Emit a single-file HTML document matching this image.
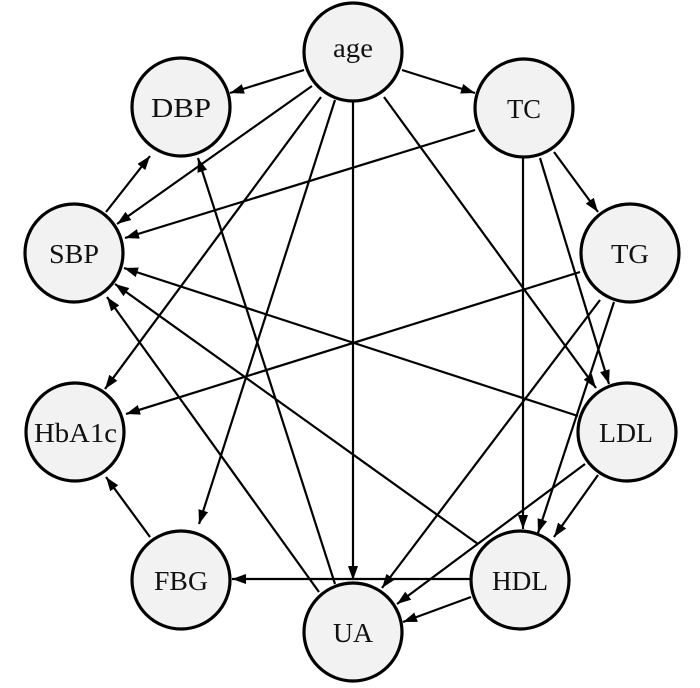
<!DOCTYPE html>
<html><head><meta charset="utf-8"><style>
html,body{margin:0;padding:0;background:#fff;}
svg{display:block;}
text{font-family:"Liberation Serif",serif;font-size:27px;fill:#111;}
</style></head><body>
<svg width="700" height="688" viewBox="0 0 700 688" xmlns="http://www.w3.org/2000/svg">
<defs>
<marker id="a" markerWidth="14" markerHeight="10" refX="14" refY="5" orient="auto" markerUnits="userSpaceOnUse">
<path d="M0,0 L14,5 L0,10 z" fill="#000"/>
</marker>
</defs>
<g stroke="#000" stroke-width="2.2" fill="none" marker-end="url(#a)">
<line x1="304" y1="70" x2="230" y2="93"/>
<line x1="402" y1="70" x2="475" y2="93"/>
<line x1="312" y1="86" x2="117" y2="224"/>
<line x1="321" y1="97" x2="105" y2="389"/>
<line x1="335" y1="100" x2="199" y2="524"/>
<line x1="353" y1="102" x2="353" y2="580"/>
<line x1="384" y1="97" x2="596" y2="388"/>
<line x1="475" y1="130" x2="125" y2="238"/>
<line x1="554" y1="152" x2="598" y2="212"/>
<line x1="523" y1="158" x2="523" y2="529"/>
<line x1="540" y1="158" x2="609" y2="384"/>
<line x1="106" y1="212" x2="150" y2="156"/>
<line x1="335" y1="584" x2="198" y2="158"/>
<line x1="319" y1="592" x2="107" y2="297"/>
<line x1="478" y1="544" x2="115" y2="284"/>
<line x1="578" y1="416" x2="124" y2="268"/>
<line x1="580" y1="272" x2="126" y2="414"/>
<line x1="600" y1="300" x2="382" y2="588"/>
<line x1="614" y1="302" x2="538" y2="533"/>
<line x1="585" y1="464" x2="397" y2="604"/>
<line x1="598" y1="475" x2="554" y2="537"/>
<line x1="471" y1="597" x2="403" y2="622"/>
<line x1="471" y1="579" x2="232" y2="579"/>
<line x1="150" y1="537" x2="106" y2="477"/>
</g>
<g fill="#f2f2f2" stroke="#000" stroke-width="3.2">
<circle cx="353" cy="52" r="49"/>
<circle cx="181" cy="107" r="49"/>
<circle cx="524" cy="108" r="49"/>
<circle cx="74" cy="253" r="49"/>
<circle cx="630" cy="253" r="49"/>
<circle cx="75" cy="432" r="49"/>
<circle cx="627" cy="432" r="49"/>
<circle cx="181" cy="580" r="49"/>
<circle cx="520" cy="580" r="49"/>
<circle cx="353" cy="632" r="49"/>
</g>
<g lengthAdjust="spacingAndGlyphs">
<text x="333" y="57" textLength="40" lengthAdjust="spacingAndGlyphs">age</text>
<text x="151" y="117" textLength="60" lengthAdjust="spacingAndGlyphs">DBP</text>
<text x="507" y="118" textLength="34" lengthAdjust="spacingAndGlyphs">TC</text>
<text x="49" y="263" textLength="50" lengthAdjust="spacingAndGlyphs">SBP</text>
<text x="611" y="263" textLength="38" lengthAdjust="spacingAndGlyphs">TG</text>
<text x="34" y="442" textLength="83" lengthAdjust="spacingAndGlyphs">HbA1c</text>
<text x="599" y="442" textLength="54" lengthAdjust="spacingAndGlyphs">LDL</text>
<text x="154" y="590" textLength="54" lengthAdjust="spacingAndGlyphs">FBG</text>
<text x="492" y="590" textLength="56" lengthAdjust="spacingAndGlyphs">HDL</text>
<text x="333" y="642" textLength="40" lengthAdjust="spacingAndGlyphs">UA</text>
</g>
</svg>
</body></html>
